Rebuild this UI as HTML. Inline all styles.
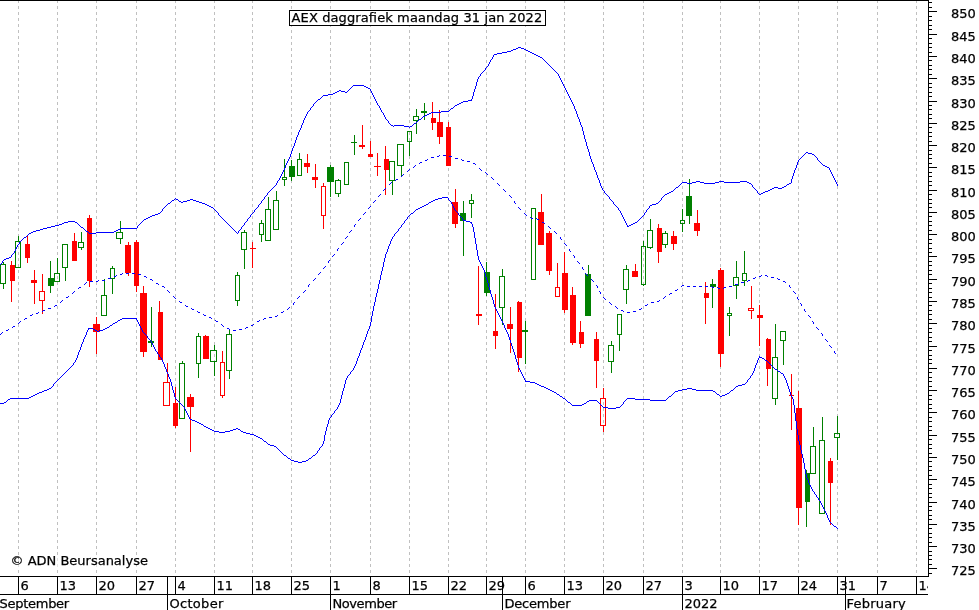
<!DOCTYPE html>
<html lang="nl"><head><meta charset="utf-8"><title>AEX daggrafiek maandag 31 jan 2022</title>
<style>html,body{margin:0;padding:0;background:#fff}body{width:979px;height:610px;overflow:hidden}svg{display:block}text{font-family:"DejaVu Sans","Liberation Sans",sans-serif;font-size:13px;fill:#000;stroke:#000;stroke-width:0.25px}</style></head><body>
<svg width="979" height="610" viewBox="0 0 979 610">
<rect width="979" height="610" fill="#fff"/>
<g shape-rendering="crispEdges" stroke="#c0c0c0" stroke-width="1" stroke-dasharray="3 3">
<line x1="18.5" y1="0" x2="18.5" y2="576"/>
<line x1="57.5" y1="0" x2="57.5" y2="576"/>
<line x1="96.5" y1="0" x2="96.5" y2="576"/>
<line x1="136.5" y1="0" x2="136.5" y2="576"/>
<line x1="175.5" y1="0" x2="175.5" y2="576"/>
<line x1="214.5" y1="0" x2="214.5" y2="576"/>
<line x1="252.5" y1="0" x2="252.5" y2="576"/>
<line x1="291.5" y1="0" x2="291.5" y2="576"/>
<line x1="330.5" y1="0" x2="330.5" y2="576"/>
<line x1="370.5" y1="0" x2="370.5" y2="576"/>
<line x1="409.5" y1="0" x2="409.5" y2="576"/>
<line x1="448.5" y1="0" x2="448.5" y2="576"/>
<line x1="486.5" y1="0" x2="486.5" y2="576"/>
<line x1="525.5" y1="0" x2="525.5" y2="576"/>
<line x1="564.5" y1="0" x2="564.5" y2="576"/>
<line x1="603.5" y1="0" x2="603.5" y2="576"/>
<line x1="643.5" y1="0" x2="643.5" y2="576"/>
<line x1="682.5" y1="0" x2="682.5" y2="576"/>
<line x1="720.5" y1="0" x2="720.5" y2="576"/>
<line x1="759.5" y1="0" x2="759.5" y2="576"/>
<line x1="798.5" y1="0" x2="798.5" y2="576"/>
<line x1="837.5" y1="0" x2="837.5" y2="576"/>
<line x1="877.5" y1="0" x2="877.5" y2="576"/>
<line x1="916.5" y1="0" x2="916.5" y2="576"/>
</g>
<g shape-rendering="crispEdges">
<rect x="3" y="262" width="1" height="2" fill="#008000"/>
<rect x="3" y="284" width="1" height="5" fill="#008000"/>
<rect x="0.5" y="264.5" width="5" height="19" fill="none" stroke="#008000" stroke-width="1"/>
<rect x="11" y="261" width="1" height="41" fill="#ff0000"/>
<rect x="10" y="265" width="5" height="16" fill="#ff0000"/>
<rect x="18" y="236" width="1" height="5" fill="#008000"/>
<rect x="15.5" y="241.5" width="5" height="26" fill="none" stroke="#008000" stroke-width="1"/>
<rect x="27" y="236" width="1" height="27" fill="#ff0000"/>
<rect x="25" y="244" width="5" height="14" fill="#ff0000"/>
<rect x="34" y="270" width="1" height="34" fill="#ff0000"/>
<rect x="31" y="280" width="6" height="3" fill="#ff0000"/>
<rect x="42" y="274" width="1" height="17" fill="#ff0000"/>
<rect x="42" y="301" width="1" height="13" fill="#ff0000"/>
<rect x="39.5" y="291.5" width="5" height="9" fill="none" stroke="#ff0000" stroke-width="1"/>
<rect x="50" y="261" width="1" height="32" fill="#008000"/>
<rect x="48" y="278" width="6" height="8" fill="#008000"/>
<rect x="57" y="258" width="1" height="15" fill="#008000"/>
<rect x="54.5" y="273.5" width="5" height="8" fill="none" stroke="#008000" stroke-width="1"/>
<rect x="65" y="268" width="1" height="13" fill="#008000"/>
<rect x="62.5" y="244.5" width="5" height="23" fill="none" stroke="#008000" stroke-width="1"/>
<rect x="74" y="233" width="1" height="28" fill="#ff0000"/>
<rect x="72" y="241" width="5" height="20" fill="#ff0000"/>
<rect x="81" y="232" width="1" height="10" fill="#008000"/>
<rect x="81" y="248" width="1" height="2" fill="#008000"/>
<rect x="78.5" y="242.5" width="5" height="5" fill="none" stroke="#008000" stroke-width="1"/>
<rect x="89" y="215" width="1" height="72" fill="#ff0000"/>
<rect x="87" y="218" width="5" height="63" fill="#ff0000"/>
<rect x="96" y="317" width="1" height="37" fill="#ff0000"/>
<rect x="93" y="324" width="7" height="8" fill="#ff0000"/>
<rect x="104" y="279" width="1" height="16" fill="#008000"/>
<rect x="101.5" y="295.5" width="5" height="20" fill="none" stroke="#008000" stroke-width="1"/>
<rect x="112" y="266" width="1" height="2" fill="#008000"/>
<rect x="112" y="279" width="1" height="15" fill="#008000"/>
<rect x="110.5" y="268.5" width="4" height="10" fill="none" stroke="#008000" stroke-width="1"/>
<rect x="120" y="221" width="1" height="11" fill="#008000"/>
<rect x="120" y="239" width="1" height="5" fill="#008000"/>
<rect x="116.5" y="232.5" width="6" height="6" fill="none" stroke="#008000" stroke-width="1"/>
<rect x="128" y="242" width="1" height="34" fill="#ff0000"/>
<rect x="125" y="245" width="6" height="28" fill="#ff0000"/>
<rect x="136" y="240" width="1" height="52" fill="#ff0000"/>
<rect x="134" y="242" width="5" height="44" fill="#ff0000"/>
<rect x="143" y="286" width="1" height="71" fill="#ff0000"/>
<rect x="140" y="293" width="7" height="59" fill="#ff0000"/>
<rect x="151" y="307" width="1" height="40" fill="#008000"/>
<rect x="148" y="341" width="6" height="2" fill="#008000"/>
<rect x="159" y="301" width="1" height="59" fill="#ff0000"/>
<rect x="158" y="312" width="5" height="48" fill="#ff0000"/>
<rect x="167" y="363" width="1" height="19" fill="#ff0000"/>
<rect x="163.5" y="382.5" width="6" height="23" fill="none" stroke="#ff0000" stroke-width="1"/>
<rect x="175" y="387" width="1" height="41" fill="#ff0000"/>
<rect x="173" y="403" width="5" height="23" fill="#ff0000"/>
<rect x="182" y="361" width="1" height="2" fill="#008000"/>
<rect x="179.5" y="363.5" width="5" height="55" fill="none" stroke="#008000" stroke-width="1"/>
<rect x="190" y="394" width="1" height="58" fill="#ff0000"/>
<rect x="187" y="397" width="7" height="10" fill="#ff0000"/>
<rect x="198" y="333" width="1" height="3" fill="#008000"/>
<rect x="198" y="364" width="1" height="14" fill="#008000"/>
<rect x="196.5" y="336.5" width="4" height="27" fill="none" stroke="#008000" stroke-width="1"/>
<rect x="205" y="335" width="1" height="24" fill="#ff0000"/>
<rect x="203" y="336" width="6" height="23" fill="#ff0000"/>
<rect x="214" y="345" width="1" height="5" fill="#008000"/>
<rect x="214" y="362" width="1" height="14" fill="#008000"/>
<rect x="210.5" y="350.5" width="6" height="11" fill="none" stroke="#008000" stroke-width="1"/>
<rect x="222" y="351" width="1" height="11" fill="#ff0000"/>
<rect x="222" y="396" width="1" height="2" fill="#ff0000"/>
<rect x="220.5" y="362.5" width="4" height="33" fill="none" stroke="#ff0000" stroke-width="1"/>
<rect x="229" y="329" width="1" height="5" fill="#008000"/>
<rect x="229" y="371" width="1" height="8" fill="#008000"/>
<rect x="226.5" y="334.5" width="5" height="36" fill="none" stroke="#008000" stroke-width="1"/>
<rect x="237" y="272" width="1" height="3" fill="#008000"/>
<rect x="237" y="301" width="1" height="5" fill="#008000"/>
<rect x="235.5" y="275.5" width="4" height="25" fill="none" stroke="#008000" stroke-width="1"/>
<rect x="244" y="230" width="1" height="2" fill="#008000"/>
<rect x="244" y="250" width="1" height="19" fill="#008000"/>
<rect x="241.5" y="232.5" width="5" height="17" fill="none" stroke="#008000" stroke-width="1"/>
<rect x="252" y="242" width="1" height="26" fill="#ff0000"/>
<rect x="250" y="248" width="6" height="1" fill="#ff0000"/>
<rect x="261" y="220" width="1" height="3" fill="#008000"/>
<rect x="261" y="235" width="1" height="7" fill="#008000"/>
<rect x="259.5" y="223.5" width="4" height="11" fill="none" stroke="#008000" stroke-width="1"/>
<rect x="268" y="197" width="1" height="12" fill="#008000"/>
<rect x="265.5" y="209.5" width="5" height="31" fill="none" stroke="#008000" stroke-width="1"/>
<rect x="276" y="191" width="1" height="9" fill="#008000"/>
<rect x="273.5" y="200.5" width="5" height="29" fill="none" stroke="#008000" stroke-width="1"/>
<rect x="284" y="159" width="1" height="18" fill="#008000"/>
<rect x="284" y="180" width="1" height="6" fill="#008000"/>
<rect x="282.5" y="177.5" width="4" height="2" fill="none" stroke="#008000" stroke-width="1"/>
<rect x="291" y="160" width="1" height="21" fill="#008000"/>
<rect x="289" y="166" width="6" height="11" fill="#008000"/>
<rect x="299" y="153" width="1" height="6" fill="#008000"/>
<rect x="297.5" y="159.5" width="4" height="16" fill="none" stroke="#008000" stroke-width="1"/>
<rect x="307" y="154" width="1" height="19" fill="#ff0000"/>
<rect x="304" y="163" width="6" height="4" fill="#ff0000"/>
<rect x="315" y="164" width="1" height="24" fill="#ff0000"/>
<rect x="312" y="177" width="6" height="3" fill="#ff0000"/>
<rect x="323" y="183" width="1" height="3" fill="#ff0000"/>
<rect x="323" y="216" width="1" height="13" fill="#ff0000"/>
<rect x="321.5" y="186.5" width="4" height="29" fill="none" stroke="#ff0000" stroke-width="1"/>
<rect x="330" y="165" width="1" height="32" fill="#008000"/>
<rect x="327" y="167" width="7" height="15" fill="#008000"/>
<rect x="338" y="179" width="1" height="1" fill="#008000"/>
<rect x="338" y="194" width="1" height="3" fill="#008000"/>
<rect x="335.5" y="180.5" width="5" height="13" fill="none" stroke="#008000" stroke-width="1"/>
<rect x="344.5" y="162.5" width="4" height="22" fill="none" stroke="#008000" stroke-width="1"/>
<rect x="354" y="135" width="1" height="20" fill="#008000"/>
<rect x="351" y="142" width="6" height="1" fill="#008000"/>
<rect x="362" y="125" width="1" height="24" fill="#ff0000"/>
<rect x="359" y="145" width="6" height="2" fill="#ff0000"/>
<rect x="370" y="141" width="1" height="16" fill="#ff0000"/>
<rect x="368" y="154" width="5" height="3" fill="#ff0000"/>
<rect x="377" y="153" width="1" height="23" fill="#ff0000"/>
<rect x="374" y="166" width="7" height="1" fill="#ff0000"/>
<rect x="385" y="146" width="1" height="49" fill="#ff0000"/>
<rect x="384" y="159" width="5" height="11" fill="#ff0000"/>
<rect x="392" y="181" width="1" height="14" fill="#008000"/>
<rect x="389.5" y="161.5" width="5" height="19" fill="none" stroke="#008000" stroke-width="1"/>
<rect x="401" y="166" width="1" height="10" fill="#008000"/>
<rect x="397.5" y="144.5" width="6" height="21" fill="none" stroke="#008000" stroke-width="1"/>
<rect x="409" y="142" width="1" height="14" fill="#008000"/>
<rect x="407.5" y="131.5" width="4" height="10" fill="none" stroke="#008000" stroke-width="1"/>
<rect x="416" y="109" width="1" height="7" fill="#008000"/>
<rect x="416" y="121" width="1" height="13" fill="#008000"/>
<rect x="413.5" y="116.5" width="5" height="4" fill="none" stroke="#008000" stroke-width="1"/>
<rect x="424" y="103" width="1" height="17" fill="#008000"/>
<rect x="421" y="111" width="6" height="2" fill="#008000"/>
<rect x="432" y="102" width="1" height="28" fill="#ff0000"/>
<rect x="431" y="118" width="5" height="5" fill="#ff0000"/>
<rect x="439" y="110" width="1" height="34" fill="#ff0000"/>
<rect x="437" y="122" width="6" height="15" fill="#ff0000"/>
<rect x="448" y="122" width="1" height="44" fill="#ff0000"/>
<rect x="446" y="127" width="5" height="39" fill="#ff0000"/>
<rect x="455" y="189" width="1" height="39" fill="#ff0000"/>
<rect x="452" y="202" width="6" height="22" fill="#ff0000"/>
<rect x="463" y="201" width="1" height="55" fill="#008000"/>
<rect x="460" y="213" width="6" height="8" fill="#008000"/>
<rect x="471" y="194" width="1" height="6" fill="#008000"/>
<rect x="471" y="204" width="1" height="14" fill="#008000"/>
<rect x="469.5" y="200.5" width="4" height="3" fill="none" stroke="#008000" stroke-width="1"/>
<rect x="478" y="266" width="1" height="59" fill="#ff0000"/>
<rect x="476" y="314" width="6" height="2" fill="#ff0000"/>
<rect x="486" y="262" width="1" height="34" fill="#008000"/>
<rect x="484" y="272" width="6" height="21" fill="#008000"/>
<rect x="495" y="294" width="1" height="55" fill="#ff0000"/>
<rect x="493" y="331" width="5" height="5" fill="#ff0000"/>
<rect x="502" y="269" width="1" height="7" fill="#008000"/>
<rect x="502" y="308" width="1" height="17" fill="#008000"/>
<rect x="499.5" y="276.5" width="5" height="31" fill="none" stroke="#008000" stroke-width="1"/>
<rect x="510" y="307" width="1" height="46" fill="#ff0000"/>
<rect x="507" y="324" width="6" height="5" fill="#ff0000"/>
<rect x="518" y="301" width="1" height="71" fill="#ff0000"/>
<rect x="517" y="302" width="5" height="56" fill="#ff0000"/>
<rect x="525" y="321" width="1" height="43" fill="#008000"/>
<rect x="522" y="330" width="6" height="2" fill="#008000"/>
<rect x="531.5" y="208.5" width="4" height="71" fill="none" stroke="#008000" stroke-width="1"/>
<rect x="541" y="194" width="1" height="51" fill="#ff0000"/>
<rect x="538" y="212" width="6" height="33" fill="#ff0000"/>
<rect x="549" y="231" width="1" height="44" fill="#ff0000"/>
<rect x="546" y="233" width="6" height="38" fill="#ff0000"/>
<rect x="557" y="263" width="1" height="24" fill="#ff0000"/>
<rect x="555.5" y="287.5" width="4" height="9" fill="none" stroke="#ff0000" stroke-width="1"/>
<rect x="564" y="252" width="1" height="61" fill="#ff0000"/>
<rect x="562" y="273" width="6" height="37" fill="#ff0000"/>
<rect x="572" y="287" width="1" height="58" fill="#ff0000"/>
<rect x="570" y="295" width="6" height="48" fill="#ff0000"/>
<rect x="580" y="321" width="1" height="27" fill="#ff0000"/>
<rect x="579" y="332" width="5" height="12" fill="#ff0000"/>
<rect x="588" y="265" width="1" height="51" fill="#008000"/>
<rect x="585" y="274" width="6" height="42" fill="#008000"/>
<rect x="596" y="332" width="1" height="56" fill="#ff0000"/>
<rect x="594" y="339" width="5" height="22" fill="#ff0000"/>
<rect x="603" y="388" width="1" height="10" fill="#ff0000"/>
<rect x="603" y="426" width="1" height="6" fill="#ff0000"/>
<rect x="600.5" y="398.5" width="5" height="27" fill="none" stroke="#ff0000" stroke-width="1"/>
<rect x="611" y="341" width="1" height="4" fill="#008000"/>
<rect x="611" y="362" width="1" height="11" fill="#008000"/>
<rect x="608.5" y="345.5" width="5" height="16" fill="none" stroke="#008000" stroke-width="1"/>
<rect x="619" y="335" width="1" height="16" fill="#008000"/>
<rect x="617.5" y="314.5" width="4" height="20" fill="none" stroke="#008000" stroke-width="1"/>
<rect x="626" y="265" width="1" height="4" fill="#008000"/>
<rect x="626" y="290" width="1" height="14" fill="#008000"/>
<rect x="623.5" y="269.5" width="5" height="20" fill="none" stroke="#008000" stroke-width="1"/>
<rect x="635" y="264" width="1" height="13" fill="#ff0000"/>
<rect x="632" y="271" width="6" height="6" fill="#ff0000"/>
<rect x="643" y="241" width="1" height="5" fill="#008000"/>
<rect x="643" y="285" width="1" height="1" fill="#008000"/>
<rect x="641.5" y="246.5" width="4" height="38" fill="none" stroke="#008000" stroke-width="1"/>
<rect x="650" y="219" width="1" height="11" fill="#008000"/>
<rect x="650" y="248" width="1" height="1" fill="#008000"/>
<rect x="647.5" y="230.5" width="5" height="17" fill="none" stroke="#008000" stroke-width="1"/>
<rect x="658" y="224" width="1" height="39" fill="#ff0000"/>
<rect x="657" y="228" width="5" height="24" fill="#ff0000"/>
<rect x="665" y="231" width="1" height="2" fill="#008000"/>
<rect x="665" y="245" width="1" height="3" fill="#008000"/>
<rect x="662.5" y="233.5" width="5" height="11" fill="none" stroke="#008000" stroke-width="1"/>
<rect x="673" y="231" width="1" height="19" fill="#ff0000"/>
<rect x="671" y="236" width="6" height="8" fill="#ff0000"/>
<rect x="682" y="209" width="1" height="11" fill="#008000"/>
<rect x="682" y="224" width="1" height="8" fill="#008000"/>
<rect x="680.5" y="220.5" width="4" height="3" fill="none" stroke="#008000" stroke-width="1"/>
<rect x="689" y="179" width="1" height="45" fill="#008000"/>
<rect x="686" y="196" width="6" height="20" fill="#008000"/>
<rect x="697" y="210" width="1" height="26" fill="#ff0000"/>
<rect x="694" y="223" width="6" height="8" fill="#ff0000"/>
<rect x="705" y="282" width="1" height="42" fill="#ff0000"/>
<rect x="704" y="293" width="5" height="5" fill="#ff0000"/>
<rect x="712" y="279" width="1" height="29" fill="#008000"/>
<rect x="710" y="284" width="6" height="3" fill="#008000"/>
<rect x="720" y="268" width="1" height="99" fill="#ff0000"/>
<rect x="718" y="270" width="6" height="84" fill="#ff0000"/>
<rect x="729" y="307" width="1" height="6" fill="#008000"/>
<rect x="729" y="316" width="1" height="20" fill="#008000"/>
<rect x="727.5" y="313.5" width="4" height="2" fill="none" stroke="#008000" stroke-width="1"/>
<rect x="736" y="261" width="1" height="16" fill="#008000"/>
<rect x="736" y="286" width="1" height="13" fill="#008000"/>
<rect x="733.5" y="277.5" width="5" height="8" fill="none" stroke="#008000" stroke-width="1"/>
<rect x="744" y="251" width="1" height="22" fill="#008000"/>
<rect x="744" y="281" width="1" height="5" fill="#008000"/>
<rect x="742.5" y="273.5" width="4" height="7" fill="none" stroke="#008000" stroke-width="1"/>
<rect x="751" y="286" width="1" height="22" fill="#ff0000"/>
<rect x="751" y="311" width="1" height="8" fill="#ff0000"/>
<rect x="748.5" y="308.5" width="5" height="2" fill="none" stroke="#ff0000" stroke-width="1"/>
<rect x="759" y="305" width="1" height="41" fill="#ff0000"/>
<rect x="757" y="315" width="6" height="3" fill="#ff0000"/>
<rect x="767" y="338" width="1" height="48" fill="#ff0000"/>
<rect x="766" y="339" width="5" height="30" fill="#ff0000"/>
<rect x="775" y="324" width="1" height="33" fill="#008000"/>
<rect x="775" y="399" width="1" height="6" fill="#008000"/>
<rect x="772.5" y="357.5" width="5" height="41" fill="none" stroke="#008000" stroke-width="1"/>
<rect x="783" y="341" width="1" height="24" fill="#008000"/>
<rect x="780.5" y="331.5" width="5" height="9" fill="none" stroke="#008000" stroke-width="1"/>
<rect x="791" y="374" width="1" height="56" fill="#ff0000"/>
<rect x="789" y="395" width="5" height="1" fill="#ff0000"/>
<rect x="798" y="391" width="1" height="134" fill="#ff0000"/>
<rect x="796" y="408" width="6" height="100" fill="#ff0000"/>
<rect x="806" y="470" width="1" height="57" fill="#008000"/>
<rect x="805" y="473" width="5" height="29" fill="#008000"/>
<rect x="813" y="427" width="1" height="19" fill="#008000"/>
<rect x="810.5" y="446.5" width="5" height="27" fill="none" stroke="#008000" stroke-width="1"/>
<rect x="822" y="417" width="1" height="23" fill="#008000"/>
<rect x="819.5" y="440.5" width="5" height="73" fill="none" stroke="#008000" stroke-width="1"/>
<rect x="830" y="458" width="1" height="67" fill="#ff0000"/>
<rect x="828" y="461" width="5" height="22" fill="#ff0000"/>
<rect x="837" y="416" width="1" height="17" fill="#008000"/>
<rect x="837" y="438" width="1" height="22" fill="#008000"/>
<rect x="834.5" y="433.5" width="5" height="4" fill="none" stroke="#008000" stroke-width="1"/>
<path fill="#0000ff" d="M518 47h3v1h-3zM516 48h2v1h-2zM521 48h3v1h-3zM513 49h3v1h-3zM524 49h2v1h-2zM511 50h2v1h-2zM526 50h2v1h-2zM507 51h4v1h-4zM528 51h2v1h-2zM502 52h5v1h-5zM530 52h2v1h-2zM497 53h5v1h-5zM532 53h2v1h-2zM494 54h3v1h-3zM534 54h2v1h-2zM493 55h1v2h-1zM536 55h2v1h-2zM538 56h2v1h-2zM492 57h1v2h-1zM540 57h2v1h-2zM542 58h1v1h-1zM491 59h1v1h-1zM543 59h1v1h-1zM490 60h1v2h-1zM544 60h1v1h-1zM545 61h1v1h-1zM489 62h1v2h-1zM546 62h1v1h-1zM547 63h1v1h-1zM488 64h1v2h-1zM548 64h1v1h-1zM549 65h1v1h-1zM487 66h1v1h-1zM550 66h1v1h-1zM486 67h1v1h-1zM551 67h1v1h-1zM485 68h1v2h-1zM552 68h1v1h-1zM553 69h1v1h-1zM484 70h1v1h-1zM554 70h1v1h-1zM483 71h1v1h-1zM555 71h1v1h-1zM482 72h1v1h-1zM556 72h1v1h-1zM481 73h1v1h-1zM557 73h1v1h-1zM480 74h1v2h-1zM558 74h1v2h-1zM479 76h1v1h-1zM559 76h1v2h-1zM478 77h1v2h-1zM560 78h1v2h-1zM477 79h1v3h-1zM561 80h1v2h-1zM476 82h1v4h-1zM562 82h1v2h-1zM563 84h1v2h-1zM353 85h11v1h-11zM352 86h1v1h-1zM364 86h2v1h-2zM475 86h1v3h-1zM564 86h1v2h-1zM351 87h1v1h-1zM366 87h2v1h-2zM350 88h1v1h-1zM368 88h2v1h-2zM565 88h1v2h-1zM349 89h1v1h-1zM370 89h1v2h-1zM474 89h1v3h-1zM339 90h2v1h-2zM348 90h1v1h-1zM566 90h1v2h-1zM337 91h2v1h-2zM341 91h4v1h-4zM347 91h1v1h-1zM371 91h1v2h-1zM335 92h2v1h-2zM345 92h2v1h-2zM473 92h1v4h-1zM567 92h1v2h-1zM333 93h2v1h-2zM372 93h1v2h-1zM328 94h5v1h-5zM568 94h1v2h-1zM323 95h5v1h-5zM373 95h1v2h-1zM322 96h1v1h-1zM472 96h1v3h-1zM569 96h1v2h-1zM321 97h1v1h-1zM374 97h1v2h-1zM320 98h1v1h-1zM570 98h1v2h-1zM318 99h2v1h-2zM375 99h1v2h-1zM471 99h1v2h-1zM317 100h1v1h-1zM468 100h3v1h-3zM571 100h1v2h-1zM316 101h1v1h-1zM376 101h1v2h-1zM463 101h5v1h-5zM315 102h1v1h-1zM461 102h2v1h-2zM572 102h1v2h-1zM314 103h1v1h-1zM377 103h1v2h-1zM459 103h2v1h-2zM313 104h1v2h-1zM457 104h2v1h-2zM573 104h1v2h-1zM378 105h1v1h-1zM455 105h2v1h-2zM312 106h1v1h-1zM379 106h1v2h-1zM454 106h1v1h-1zM574 106h1v3h-1zM311 107h1v1h-1zM453 107h1v1h-1zM310 108h1v2h-1zM380 108h1v2h-1zM451 108h2v1h-2zM450 109h1v1h-1zM575 109h1v2h-1zM309 110h1v1h-1zM381 110h1v2h-1zM449 110h1v1h-1zM308 111h1v1h-1zM441 111h8v1h-8zM576 111h1v3h-1zM307 112h1v2h-1zM382 112h1v1h-1zM431 112h10v1h-10zM383 113h1v2h-1zM429 113h2v1h-2zM306 114h1v2h-1zM427 114h2v1h-2zM577 114h1v3h-1zM384 115h1v2h-1zM425 115h2v1h-2zM305 116h1v2h-1zM423 116h2v1h-2zM385 117h1v2h-1zM422 117h1v1h-1zM578 117h1v2h-1zM304 118h1v2h-1zM421 118h1v1h-1zM386 119h1v1h-1zM419 119h2v1h-2zM579 119h1v3h-1zM303 120h1v3h-1zM387 120h1v1h-1zM418 120h1v1h-1zM388 121h1v2h-1zM417 121h1v1h-1zM416 122h1v1h-1zM580 122h1v3h-1zM302 123h1v2h-1zM389 123h1v1h-1zM414 123h2v1h-2zM390 124h1v1h-1zM413 124h1v1h-1zM301 125h1v3h-1zM391 125h2v1h-2zM394 125h10v1h-10zM412 125h1v1h-1zM581 125h1v2h-1zM393 126h1v1h-1zM404 126h5v1h-5zM410 126h2v1h-2zM409 127h1v1h-1zM582 127h1v4h-1zM300 128h1v2h-1zM299 130h1v2h-1zM583 131h1v4h-1zM298 132h1v3h-1zM297 135h1v2h-1zM584 135h1v4h-1zM296 137h1v3h-1zM585 139h1v3h-1zM295 140h1v3h-1zM586 142h1v4h-1zM294 143h1v3h-1zM293 146h1v2h-1zM587 146h1v3h-1zM292 148h1v3h-1zM588 149h1v3h-1zM291 151h1v3h-1zM589 152h1v4h-1zM806 152h2v1h-2zM805 153h1v1h-1zM808 153h4v1h-4zM290 154h1v3h-1zM804 154h1v1h-1zM812 154h2v1h-2zM803 155h1v1h-1zM814 155h1v1h-1zM590 156h1v3h-1zM802 156h1v1h-1zM815 156h1v1h-1zM289 157h1v2h-1zM801 157h1v1h-1zM816 157h1v1h-1zM800 158h1v1h-1zM817 158h1v2h-1zM288 159h1v2h-1zM591 159h1v3h-1zM799 159h1v1h-1zM798 160h1v2h-1zM818 160h1v1h-1zM287 161h1v2h-1zM819 161h1v1h-1zM592 162h1v2h-1zM797 162h1v3h-1zM820 162h1v1h-1zM286 163h1v2h-1zM821 163h1v1h-1zM593 164h1v3h-1zM822 164h1v1h-1zM285 165h1v3h-1zM796 165h1v3h-1zM823 165h2v1h-2zM825 166h2v1h-2zM594 167h1v3h-1zM827 167h2v1h-2zM284 168h1v2h-1zM795 168h1v2h-1zM829 168h1v2h-1zM283 170h1v2h-1zM595 170h1v2h-1zM794 170h1v3h-1zM830 170h1v2h-1zM282 172h1v2h-1zM596 172h1v3h-1zM831 172h1v2h-1zM793 173h1v3h-1zM281 174h1v2h-1zM832 174h1v2h-1zM597 175h1v3h-1zM280 176h1v2h-1zM792 176h1v3h-1zM833 176h1v2h-1zM279 178h1v2h-1zM598 178h1v2h-1zM834 178h1v2h-1zM791 179h1v4h-1zM278 180h1v1h-1zM599 180h1v3h-1zM835 180h1v2h-1zM277 181h1v2h-1zM696 181h4v1h-4zM719 181h5v1h-5zM740 181h7v1h-7zM682 182h5v1h-5zM692 182h4v1h-4zM700 182h4v1h-4zM715 182h4v1h-4zM724 182h16v1h-16zM747 182h2v1h-2zM836 182h1v2h-1zM276 183h1v2h-1zM600 183h1v3h-1zM681 183h1v1h-1zM687 183h5v1h-5zM704 183h11v1h-11zM749 183h2v1h-2zM789 183h2v1h-2zM680 184h1v1h-1zM751 184h1v1h-1zM787 184h2v1h-2zM837 184h1v2h-1zM275 185h1v1h-1zM679 185h1v1h-1zM752 185h1v2h-1zM786 185h1v1h-1zM274 186h1v1h-1zM601 186h1v2h-1zM678 186h1v1h-1zM784 186h2v1h-2zM273 187h1v1h-1zM676 187h2v1h-2zM753 187h1v1h-1zM774 187h4v1h-4zM782 187h2v1h-2zM272 188h1v1h-1zM602 188h1v2h-1zM675 188h1v1h-1zM754 188h1v1h-1zM772 188h2v1h-2zM778 188h4v1h-4zM271 189h1v1h-1zM674 189h1v1h-1zM755 189h1v1h-1zM770 189h2v1h-2zM270 190h1v1h-1zM603 190h1v1h-1zM673 190h1v1h-1zM756 190h1v1h-1zM768 190h2v1h-2zM269 191h1v1h-1zM604 191h1v2h-1zM671 191h2v1h-2zM757 191h1v2h-1zM765 191h3v1h-3zM268 192h1v1h-1zM669 192h2v1h-2zM763 192h2v1h-2zM267 193h1v2h-1zM605 193h1v1h-1zM667 193h2v1h-2zM758 193h1v1h-1zM761 193h2v1h-2zM606 194h1v1h-1zM665 194h2v1h-2zM759 194h2v1h-2zM266 195h1v1h-1zM607 195h1v1h-1zM664 195h1v1h-1zM265 196h1v1h-1zM608 196h1v1h-1zM663 196h1v1h-1zM264 197h1v2h-1zM609 197h1v2h-1zM662 197h1v1h-1zM175 198h1v1h-1zM661 198h1v2h-1zM174 199h1v1h-1zM176 199h2v1h-2zM190 199h3v1h-3zM263 199h1v1h-1zM610 199h1v1h-1zM172 200h2v1h-2zM178 200h1v1h-1zM187 200h3v1h-3zM193 200h3v1h-3zM262 200h1v1h-1zM611 200h1v1h-1zM660 200h1v1h-1zM171 201h1v1h-1zM179 201h2v1h-2zM183 201h4v1h-4zM196 201h3v1h-3zM261 201h1v2h-1zM612 201h1v1h-1zM659 201h1v1h-1zM170 202h1v1h-1zM181 202h2v1h-2zM199 202h3v1h-3zM613 202h1v2h-1zM658 202h1v1h-1zM168 203h2v1h-2zM202 203h3v1h-3zM260 203h1v1h-1zM656 203h2v1h-2zM167 204h1v1h-1zM205 204h2v1h-2zM259 204h1v1h-1zM614 204h1v1h-1zM652 204h4v1h-4zM166 205h1v1h-1zM207 205h2v1h-2zM258 205h1v2h-1zM615 205h1v1h-1zM650 205h2v1h-2zM165 206h1v1h-1zM209 206h2v1h-2zM616 206h1v1h-1zM649 206h1v2h-1zM164 207h1v1h-1zM211 207h2v1h-2zM257 207h1v1h-1zM617 207h1v1h-1zM163 208h1v1h-1zM213 208h1v1h-1zM256 208h1v1h-1zM618 208h1v2h-1zM648 208h1v1h-1zM162 209h1v2h-1zM214 209h1v1h-1zM255 209h1v1h-1zM647 209h1v1h-1zM215 210h1v1h-1zM254 210h1v2h-1zM619 210h1v1h-1zM646 210h1v2h-1zM161 211h1v1h-1zM216 211h1v1h-1zM620 211h1v2h-1zM160 212h1v1h-1zM217 212h1v1h-1zM253 212h1v1h-1zM645 212h1v1h-1zM158 213h2v1h-2zM218 213h1v2h-1zM252 213h1v1h-1zM621 213h1v2h-1zM644 213h1v2h-1zM155 214h3v1h-3zM251 214h1v1h-1zM152 215h3v1h-3zM219 215h1v1h-1zM250 215h1v2h-1zM622 215h1v2h-1zM643 215h1v1h-1zM150 216h2v1h-2zM220 216h1v1h-1zM642 216h1v1h-1zM148 217h2v1h-2zM221 217h1v1h-1zM249 217h1v1h-1zM623 217h1v2h-1zM641 217h1v1h-1zM146 218h2v1h-2zM222 218h1v1h-1zM248 218h1v1h-1zM640 218h1v1h-1zM144 219h2v1h-2zM223 219h1v1h-1zM247 219h1v2h-1zM624 219h1v2h-1zM639 219h1v1h-1zM143 220h1v1h-1zM224 220h1v1h-1zM638 220h1v1h-1zM68 221h7v1h-7zM142 221h1v1h-1zM225 221h1v1h-1zM246 221h1v1h-1zM625 221h1v2h-1zM637 221h1v1h-1zM64 222h4v1h-4zM75 222h2v1h-2zM141 222h1v1h-1zM226 222h1v1h-1zM245 222h1v1h-1zM635 222h2v1h-2zM62 223h2v1h-2zM77 223h1v1h-1zM140 223h1v1h-1zM227 223h1v1h-1zM244 223h1v2h-1zM626 223h1v2h-1zM633 223h2v1h-2zM59 224h3v1h-3zM78 224h1v1h-1zM139 224h1v1h-1zM228 224h1v1h-1zM631 224h2v1h-2zM55 225h4v1h-4zM79 225h1v1h-1zM138 225h1v1h-1zM229 225h1v1h-1zM243 225h1v1h-1zM627 225h1v2h-1zM629 225h2v1h-2zM51 226h4v1h-4zM80 226h1v1h-1zM137 226h1v2h-1zM230 226h1v1h-1zM242 226h1v1h-1zM628 226h1v1h-1zM47 227h4v1h-4zM81 227h2v1h-2zM231 227h1v1h-1zM241 227h1v2h-1zM43 228h4v1h-4zM83 228h1v1h-1zM120 228h17v1h-17zM232 228h1v1h-1zM40 229h3v1h-3zM84 229h1v1h-1zM118 229h2v1h-2zM233 229h1v1h-1zM240 229h1v1h-1zM36 230h4v1h-4zM85 230h1v1h-1zM116 230h2v1h-2zM234 230h1v1h-1zM239 230h1v1h-1zM33 231h3v1h-3zM86 231h2v1h-2zM114 231h2v1h-2zM235 231h1v1h-1zM238 231h1v2h-1zM31 232h2v1h-2zM88 232h1v1h-1zM96 232h18v1h-18zM236 232h1v1h-1zM29 233h2v1h-2zM89 233h7v1h-7zM237 233h1v1h-1zM28 234h1v1h-1zM27 235h1v1h-1zM26 236h1v1h-1zM24 237h2v1h-2zM23 238h1v1h-1zM22 239h1v1h-1zM21 240h1v1h-1zM20 241h1v1h-1zM19 242h1v2h-1zM18 244h1v1h-1zM17 245h1v2h-1zM16 247h1v2h-1zM15 249h1v2h-1zM14 251h1v2h-1zM13 253h1v1h-1zM12 254h1v1h-1zM11 255h1v2h-1zM9 257h2v1h-2zM6 258h3v1h-3zM4 259h2v1h-2zM3 260h1v1h-1zM2 261h1v2h-1zM1 263h1v1h-1zM0 264h1v1h-1z"/>
<path fill="#0000ff" d="M442 197h6v1h-6zM438 198h4v1h-4zM448 198h1v2h-1zM435 199h3v1h-3zM433 200h2v1h-2zM449 200h1v1h-1zM431 201h2v1h-2zM450 201h1v1h-1zM429 202h2v1h-2zM451 202h1v2h-1zM428 203h1v1h-1zM426 204h2v1h-2zM452 204h1v2h-1zM424 205h2v1h-2zM422 206h2v1h-2zM453 206h1v2h-1zM420 207h2v1h-2zM418 208h2v1h-2zM454 208h1v2h-1zM416 209h2v1h-2zM415 210h1v1h-1zM455 210h1v1h-1zM414 211h1v1h-1zM456 211h1v1h-1zM413 212h1v1h-1zM457 212h1v1h-1zM411 213h2v1h-2zM458 213h1v2h-1zM410 214h1v1h-1zM409 215h1v1h-1zM459 215h1v1h-1zM408 216h1v1h-1zM460 216h1v1h-1zM407 217h1v2h-1zM461 217h1v1h-1zM462 218h1v2h-1zM406 219h1v1h-1zM405 220h1v1h-1zM463 220h3v1h-3zM404 221h1v2h-1zM466 221h4v1h-4zM470 222h2v1h-2zM403 223h1v1h-1zM471 223h1v1h-1zM402 224h1v1h-1zM472 224h1v3h-1zM401 225h1v2h-1zM400 227h1v1h-1zM473 227h1v5h-1zM399 228h1v1h-1zM398 229h1v2h-1zM397 231h1v1h-1zM396 232h1v1h-1zM474 232h1v6h-1zM395 233h1v1h-1zM394 234h1v2h-1zM393 236h1v1h-1zM392 237h1v2h-1zM475 238h1v6h-1zM391 239h1v2h-1zM390 241h1v3h-1zM389 244h1v2h-1zM476 244h1v6h-1zM388 246h1v3h-1zM387 249h1v3h-1zM477 250h1v6h-1zM386 252h1v2h-1zM385 254h1v4h-1zM478 256h1v4h-1zM384 258h1v4h-1zM479 260h1v2h-1zM383 262h1v5h-1zM480 262h1v2h-1zM481 264h1v2h-1zM482 266h1v2h-1zM382 267h1v4h-1zM483 268h1v2h-1zM484 270h1v3h-1zM381 271h1v4h-1zM485 273h1v4h-1zM380 275h1v5h-1zM486 277h1v3h-1zM379 280h1v4h-1zM487 280h1v3h-1zM488 283h1v4h-1zM378 284h1v5h-1zM489 287h1v3h-1zM377 289h1v4h-1zM490 290h1v4h-1zM376 293h1v4h-1zM491 294h1v3h-1zM375 297h1v5h-1zM492 297h1v3h-1zM493 300h1v4h-1zM374 302h1v4h-1zM494 304h1v3h-1zM373 306h1v5h-1zM495 307h1v2h-1zM496 309h1v2h-1zM372 311h1v5h-1zM497 311h1v2h-1zM498 313h1v2h-1zM499 315h1v2h-1zM371 316h1v6h-1zM500 317h1v2h-1zM122 318h15v1h-15zM120 319h2v1h-2zM136 319h1v1h-1zM501 319h1v2h-1zM118 320h2v1h-2zM137 320h1v2h-1zM117 321h1v1h-1zM502 321h1v2h-1zM115 322h2v1h-2zM138 322h1v2h-1zM370 322h1v4h-1zM113 323h2v1h-2zM503 323h1v2h-1zM112 324h1v1h-1zM139 324h1v2h-1zM110 325h2v1h-2zM504 325h1v3h-1zM109 326h1v1h-1zM140 326h1v2h-1zM369 326h1v3h-1zM107 327h2v1h-2zM88 328h5v1h-5zM105 328h2v1h-2zM141 328h1v2h-1zM505 328h1v2h-1zM88 329h1v1h-1zM93 329h2v1h-2zM103 329h2v1h-2zM368 329h1v2h-1zM87 330h1v2h-1zM95 330h2v1h-2zM99 330h4v1h-4zM142 330h1v2h-1zM506 330h1v2h-1zM97 331h2v1h-2zM367 331h1v3h-1zM86 332h1v3h-1zM143 332h1v1h-1zM507 332h1v2h-1zM144 333h1v1h-1zM145 334h1v1h-1zM366 334h1v3h-1zM508 334h1v3h-1zM85 335h1v2h-1zM146 335h1v1h-1zM147 336h1v2h-1zM84 337h1v2h-1zM365 337h1v3h-1zM509 337h1v3h-1zM148 338h1v1h-1zM83 339h1v3h-1zM149 339h1v1h-1zM150 340h1v1h-1zM364 340h1v2h-1zM510 340h1v3h-1zM151 341h1v2h-1zM82 342h1v2h-1zM363 342h1v3h-1zM152 343h1v2h-1zM511 343h1v3h-1zM81 344h1v3h-1zM153 345h1v2h-1zM362 345h1v3h-1zM512 346h1v3h-1zM80 347h1v3h-1zM154 347h1v2h-1zM361 348h1v2h-1zM155 349h1v2h-1zM513 349h1v3h-1zM79 350h1v2h-1zM360 350h1v3h-1zM156 351h1v1h-1zM78 352h1v3h-1zM157 352h1v2h-1zM514 352h1v3h-1zM359 353h1v3h-1zM158 354h1v1h-1zM77 355h1v3h-1zM159 355h1v2h-1zM515 355h1v4h-1zM358 356h1v2h-1zM759 356h1v2h-1zM160 357h1v1h-1zM760 357h2v1h-2zM76 358h1v2h-1zM161 358h1v2h-1zM357 358h1v3h-1zM758 358h1v2h-1zM762 358h2v1h-2zM516 359h1v3h-1zM764 359h1v1h-1zM75 360h1v2h-1zM162 360h1v2h-1zM757 360h1v3h-1zM765 360h2v1h-2zM356 361h1v3h-1zM767 361h1v1h-1zM74 362h1v1h-1zM163 362h1v2h-1zM517 362h1v3h-1zM768 362h1v1h-1zM73 363h1v2h-1zM756 363h1v2h-1zM769 363h1v1h-1zM164 364h1v3h-1zM355 364h1v2h-1zM770 364h1v1h-1zM72 365h1v1h-1zM518 365h1v3h-1zM755 365h1v3h-1zM771 365h1v1h-1zM71 366h1v1h-1zM354 366h1v2h-1zM772 366h1v1h-1zM70 367h1v1h-1zM165 367h1v2h-1zM773 367h1v1h-1zM69 368h1v1h-1zM353 368h1v2h-1zM519 368h1v2h-1zM754 368h1v3h-1zM774 368h1v1h-1zM68 369h1v1h-1zM166 369h1v3h-1zM775 369h2v1h-2zM67 370h1v1h-1zM352 370h1v1h-1zM520 370h1v2h-1zM777 370h1v1h-1zM66 371h1v1h-1zM351 371h1v1h-1zM753 371h1v2h-1zM778 371h2v1h-2zM65 372h1v1h-1zM167 372h1v2h-1zM350 372h1v2h-1zM521 372h1v2h-1zM780 372h1v1h-1zM64 373h1v1h-1zM752 373h1v2h-1zM781 373h2v1h-2zM63 374h1v1h-1zM168 374h1v3h-1zM349 374h1v1h-1zM522 374h1v2h-1zM783 374h1v2h-1zM62 375h1v1h-1zM348 375h1v1h-1zM751 375h1v1h-1zM61 376h1v1h-1zM347 376h1v2h-1zM523 376h1v2h-1zM750 376h1v2h-1zM784 376h1v2h-1zM60 377h1v1h-1zM169 377h1v2h-1zM59 378h1v1h-1zM346 378h1v2h-1zM524 378h1v2h-1zM749 378h1v1h-1zM785 378h1v2h-1zM58 379h1v1h-1zM170 379h1v3h-1zM748 379h1v1h-1zM57 380h1v1h-1zM345 380h1v4h-1zM525 380h1v2h-1zM747 380h1v2h-1zM786 380h1v3h-1zM56 381h1v1h-1zM526 381h4v1h-4zM55 382h1v1h-1zM171 382h1v4h-1zM530 382h5v1h-5zM746 382h1v1h-1zM54 383h1v1h-1zM535 383h2v1h-2zM745 383h1v1h-1zM787 383h1v3h-1zM53 384h1v2h-1zM344 384h1v4h-1zM537 384h2v1h-2zM742 384h3v1h-3zM539 385h2v1h-2zM738 385h4v1h-4zM52 386h1v1h-1zM172 386h1v4h-1zM541 386h3v1h-3zM736 386h2v1h-2zM788 386h1v3h-1zM51 387h1v1h-1zM544 387h2v1h-2zM735 387h1v1h-1zM49 388h2v1h-2zM343 388h1v3h-1zM546 388h2v1h-2zM687 388h5v1h-5zM734 388h1v1h-1zM47 389h2v1h-2zM548 389h2v1h-2zM682 389h5v1h-5zM692 389h4v1h-4zM733 389h1v1h-1zM789 389h1v3h-1zM44 390h3v1h-3zM173 390h1v3h-1zM550 390h2v1h-2zM678 390h4v1h-4zM696 390h17v1h-17zM731 390h2v1h-2zM42 391h2v1h-2zM342 391h1v4h-1zM552 391h2v1h-2zM675 391h3v1h-3zM713 391h2v1h-2zM730 391h1v1h-1zM39 392h3v1h-3zM554 392h2v1h-2zM674 392h1v1h-1zM715 392h1v1h-1zM729 392h1v1h-1zM790 392h1v3h-1zM37 393h2v1h-2zM174 393h1v4h-1zM556 393h1v1h-1zM673 393h1v1h-1zM716 393h1v1h-1zM727 393h2v1h-2zM35 394h2v1h-2zM557 394h2v1h-2zM672 394h1v1h-1zM717 394h2v1h-2zM725 394h2v1h-2zM33 395h2v1h-2zM341 395h1v4h-1zM559 395h1v1h-1zM671 395h1v1h-1zM719 395h1v1h-1zM722 395h3v1h-3zM791 395h1v2h-1zM31 396h2v1h-2zM560 396h2v1h-2zM669 396h2v1h-2zM720 396h2v1h-2zM29 397h2v1h-2zM175 397h1v2h-1zM562 397h1v1h-1zM668 397h1v1h-1zM792 397h1v2h-1zM10 398h19v1h-19zM563 398h2v1h-2zM627 398h8v1h-8zM667 398h1v1h-1zM8 399h2v1h-2zM176 399h1v1h-1zM340 399h1v4h-1zM565 399h1v1h-1zM626 399h1v1h-1zM635 399h15v1h-15zM666 399h1v1h-1zM793 399h1v6h-1zM7 400h1v1h-1zM177 400h1v1h-1zM566 400h1v1h-1zM589 400h8v1h-8zM625 400h1v1h-1zM650 400h16v1h-16zM6 401h1v1h-1zM178 401h1v1h-1zM567 401h1v1h-1zM587 401h2v1h-2zM597 401h1v1h-1zM624 401h1v1h-1zM4 402h2v1h-2zM179 402h1v1h-1zM568 402h2v1h-2zM586 402h1v1h-1zM598 402h1v1h-1zM623 402h1v2h-1zM0 403h4v1h-4zM180 403h1v1h-1zM339 403h1v2h-1zM570 403h1v1h-1zM584 403h2v1h-2zM599 403h1v1h-1zM181 404h1v1h-1zM571 404h1v1h-1zM582 404h2v1h-2zM600 404h1v1h-1zM622 404h1v1h-1zM182 405h1v1h-1zM338 405h1v2h-1zM572 405h10v1h-10zM601 405h1v1h-1zM621 405h1v1h-1zM794 405h1v8h-1zM183 406h1v1h-1zM602 406h1v1h-1zM620 406h1v1h-1zM184 407h1v2h-1zM337 407h1v2h-1zM603 407h5v1h-5zM616 407h4v1h-4zM608 408h8v1h-8zM185 409h1v2h-1zM336 409h1v1h-1zM335 410h1v1h-1zM186 411h1v2h-1zM334 411h1v2h-1zM187 413h1v2h-1zM333 413h1v1h-1zM795 413h1v8h-1zM332 414h1v1h-1zM188 415h1v2h-1zM331 415h1v2h-1zM189 417h1v2h-1zM330 417h1v1h-1zM329 418h1v2h-1zM190 419h2v1h-2zM192 420h3v1h-3zM328 420h1v4h-1zM195 421h2v1h-2zM796 421h1v8h-1zM197 422h2v1h-2zM199 423h2v1h-2zM201 424h2v1h-2zM327 424h1v3h-1zM203 425h1v1h-1zM204 426h2v1h-2zM206 427h2v1h-2zM326 427h1v4h-1zM208 428h2v1h-2zM236 428h2v1h-2zM210 429h2v1h-2zM233 429h3v1h-3zM238 429h2v1h-2zM797 429h1v6h-1zM212 430h2v1h-2zM230 430h3v1h-3zM240 430h1v1h-1zM214 431h5v1h-5zM225 431h5v1h-5zM241 431h2v1h-2zM325 431h1v4h-1zM219 432h6v1h-6zM243 432h3v1h-3zM246 433h4v1h-4zM250 434h4v1h-4zM254 435h2v1h-2zM324 435h1v6h-1zM798 435h1v6h-1zM256 436h2v1h-2zM258 437h2v1h-2zM260 438h2v1h-2zM262 439h1v1h-1zM263 440h1v1h-1zM264 441h2v1h-2zM323 441h1v3h-1zM799 441h1v4h-1zM266 442h1v1h-1zM267 443h1v1h-1zM268 444h2v1h-2zM322 444h1v2h-1zM270 445h4v1h-4zM800 445h1v5h-1zM274 446h2v1h-2zM321 446h1v1h-1zM276 447h1v1h-1zM320 447h1v1h-1zM277 448h1v1h-1zM319 448h1v2h-1zM278 449h1v1h-1zM279 450h1v1h-1zM318 450h1v1h-1zM801 450h1v4h-1zM280 451h1v1h-1zM317 451h1v2h-1zM281 452h1v1h-1zM282 453h1v1h-1zM316 453h1v1h-1zM283 454h1v1h-1zM315 454h1v1h-1zM802 454h1v4h-1zM284 455h2v1h-2zM313 455h2v1h-2zM286 456h1v1h-1zM312 456h1v1h-1zM287 457h1v1h-1zM311 457h1v1h-1zM288 458h2v1h-2zM309 458h2v1h-2zM803 458h1v5h-1zM290 459h1v1h-1zM308 459h1v1h-1zM291 460h3v1h-3zM306 460h2v1h-2zM294 461h4v1h-4zM302 461h4v1h-4zM298 462h4v1h-4zM804 463h1v6h-1zM805 469h1v5h-1zM806 474h1v4h-1zM807 478h1v2h-1zM808 480h1v3h-1zM809 483h1v2h-1zM810 485h1v2h-1zM811 487h1v2h-1zM812 489h1v2h-1zM813 491h1v1h-1zM814 492h1v2h-1zM815 494h1v1h-1zM816 495h1v2h-1zM817 497h1v1h-1zM818 498h1v2h-1zM819 500h1v1h-1zM820 501h1v2h-1zM821 503h1v2h-1zM822 505h1v2h-1zM823 507h1v2h-1zM824 509h1v2h-1zM825 511h1v2h-1zM826 513h1v2h-1zM827 515h1v3h-1zM828 518h1v2h-1zM829 520h1v2h-1zM830 522h1v1h-1zM831 523h1v1h-1zM832 524h1v1h-1zM833 525h1v1h-1zM834 526h2v1h-2zM836 527h1v1h-1zM837 528h1v1h-1z"/>
<path fill="#0000ff" d="M439 155h1v1h-1zM443 155h3v1h-3zM437 156h2v1h-2zM449 156h3v1h-3zM431 157h3v1h-3zM455 158h3v1h-3zM427 159h1v1h-1zM461 159h1v1h-1zM425 160h2v1h-2zM462 160h2v1h-2zM467 161h3v1h-3zM420 162h2v1h-2zM419 163h1v1h-1zM473 163h2v1h-2zM475 164h1v1h-1zM415 165h1v1h-1zM414 166h1v1h-1zM413 167h1v1h-1zM479 168h1v1h-1zM409 169h1v1h-1zM480 169h1v1h-1zM408 170h1v1h-1zM481 170h1v1h-1zM407 171h1v1h-1zM485 172h1v1h-1zM486 173h1v1h-1zM403 174h1v1h-1zM487 174h1v1h-1zM402 175h1v1h-1zM401 176h1v1h-1zM491 177h1v1h-1zM492 178h1v1h-1zM396 179h2v1h-2zM493 179h1v1h-1zM395 180h1v1h-1zM391 182h1v1h-1zM390 183h1v1h-1zM497 183h1v1h-1zM389 184h1v1h-1zM498 184h1v1h-1zM499 185h1v1h-1zM385 188h1v1h-1zM384 189h1v1h-1zM503 189h1v1h-1zM383 190h1v1h-1zM504 190h1v1h-1zM505 191h1v1h-1zM380 194h1v1h-1zM379 195h1v1h-1zM509 195h1v1h-1zM378 196h1v1h-1zM510 196h1v1h-1zM511 197h1v1h-1zM375 200h1v1h-1zM374 201h1v1h-1zM514 201h1v2h-1zM373 202h1v1h-1zM515 203h1v1h-1zM370 206h1v1h-1zM369 207h1v1h-1zM518 207h1v1h-1zM368 208h1v1h-1zM519 208h1v1h-1zM520 209h1v1h-1zM365 212h1v1h-1zM364 213h1v1h-1zM524 213h1v1h-1zM363 214h1v1h-1zM525 214h1v1h-1zM526 215h1v1h-1zM530 217h1v1h-1zM360 218h1v1h-1zM531 218h2v1h-2zM536 218h1v1h-1zM359 219h1v1h-1zM537 219h2v1h-2zM358 220h1v1h-1zM542 222h2v1h-2zM544 223h1v1h-1zM355 224h1v1h-1zM354 225h1v2h-1zM548 226h1v1h-1zM549 227h1v1h-1zM550 228h1v1h-1zM351 230h1v1h-1zM350 231h1v1h-1zM554 231h1v1h-1zM349 232h1v1h-1zM555 232h1v1h-1zM556 233h1v1h-1zM347 236h1v1h-1zM346 237h1v1h-1zM560 237h1v2h-1zM345 238h1v1h-1zM561 239h1v1h-1zM343 242h1v1h-1zM342 243h1v1h-1zM564 243h1v1h-1zM341 244h1v1h-1zM565 244h1v1h-1zM566 245h1v1h-1zM338 248h1v1h-1zM337 249h1v2h-1zM569 249h1v2h-1zM570 251h1v1h-1zM334 254h1v1h-1zM333 255h1v1h-1zM573 255h1v1h-1zM332 256h1v1h-1zM574 256h1v2h-1zM329 260h1v1h-1zM328 261h1v2h-1zM577 261h1v1h-1zM578 262h1v1h-1zM579 263h1v1h-1zM325 266h1v1h-1zM324 267h1v1h-1zM582 267h1v2h-1zM323 268h1v1h-1zM583 269h1v1h-1zM320 272h1v1h-1zM122 273h1v1h-1zM126 273h3v1h-3zM132 273h3v1h-3zM319 273h1v1h-1zM585 273h1v1h-1zM120 274h2v1h-2zM138 274h3v1h-3zM318 274h1v1h-1zM586 274h1v1h-1zM116 275h1v1h-1zM587 275h1v1h-1zM761 275h1v1h-1zM765 275h2v1h-2zM114 276h2v1h-2zM144 276h2v1h-2zM759 276h2v1h-2zM767 276h1v1h-1zM146 277h1v1h-1zM755 277h1v1h-1zM771 277h3v1h-3zM108 278h3v1h-3zM315 278h1v1h-1zM753 278h2v1h-2zM777 278h1v1h-1zM150 279h2v1h-2zM314 279h1v1h-1zM591 279h1v1h-1zM778 279h2v1h-2zM98 280h1v1h-1zM102 280h3v1h-3zM152 280h1v1h-1zM313 280h1v1h-1zM592 280h1v1h-1zM748 280h2v1h-2zM90 281h3v1h-3zM96 281h2v1h-2zM593 281h1v1h-1zM747 281h1v1h-1zM783 281h2v1h-2zM86 282h1v1h-1zM741 282h3v1h-3zM785 282h1v1h-1zM85 283h1v1h-1zM156 283h2v1h-2zM84 284h1v1h-1zM158 284h1v1h-1zM309 284h1v1h-1zM735 284h3v1h-3zM308 285h1v2h-1zM596 285h1v1h-1zM682 285h2v1h-2zM789 285h1v2h-1zM162 286h2v1h-2zM597 286h1v2h-1zM681 286h1v1h-1zM687 286h3v1h-3zM693 286h3v1h-3zM699 286h3v1h-3zM705 286h3v1h-3zM711 286h1v1h-1zM729 286h3v1h-3zM79 287h2v1h-2zM164 287h1v1h-1zM712 287h2v1h-2zM717 287h1v1h-1zM724 287h2v1h-2zM790 287h1v1h-1zM78 288h1v1h-1zM718 288h2v1h-2zM723 288h1v1h-1zM677 289h1v1h-1zM167 290h1v1h-1zM305 290h1v1h-1zM675 290h2v1h-2zM74 291h1v1h-1zM168 291h1v1h-1zM304 291h1v1h-1zM599 291h1v1h-1zM793 291h1v1h-1zM73 292h1v1h-1zM169 292h1v1h-1zM303 292h1v1h-1zM600 292h1v2h-1zM794 292h1v1h-1zM72 293h1v1h-1zM670 293h2v1h-2zM795 293h1v1h-1zM669 294h1v1h-1zM68 296h1v1h-1zM173 296h1v1h-1zM299 296h1v1h-1zM665 296h1v1h-1zM66 297h2v1h-2zM174 297h1v1h-1zM298 297h1v1h-1zM603 297h1v1h-1zM664 297h1v1h-1zM797 297h1v2h-1zM175 298h1v1h-1zM297 298h1v1h-1zM604 298h1v1h-1zM663 298h1v1h-1zM605 299h1v1h-1zM798 299h1v1h-1zM62 300h1v1h-1zM659 300h1v1h-1zM61 301h1v1h-1zM179 301h1v1h-1zM657 301h2v1h-2zM60 302h1v1h-1zM180 302h2v1h-2zM294 302h1v1h-1zM609 302h1v1h-1zM651 302h3v1h-3zM293 303h1v2h-1zM610 303h1v1h-1zM800 303h1v1h-1zM611 304h1v1h-1zM647 304h1v1h-1zM801 304h1v2h-1zM55 305h2v1h-2zM185 305h1v1h-1zM645 305h2v1h-2zM54 306h1v1h-1zM186 306h2v1h-2zM615 306h1v1h-1zM289 307h1v1h-1zM616 307h1v1h-1zM48 308h3v1h-3zM191 308h1v1h-1zM288 308h1v1h-1zM617 308h1v1h-1zM641 308h1v1h-1zM192 309h2v1h-2zM287 309h1v1h-1zM639 309h2v1h-2zM804 309h1v2h-1zM43 310h2v1h-2zM621 310h2v1h-2zM42 311h1v1h-1zM197 311h1v1h-1zM283 311h1v1h-1zM623 311h1v1h-1zM633 311h3v1h-3zM805 311h1v1h-1zM38 312h1v1h-1zM198 312h2v1h-2zM281 312h2v1h-2zM627 312h3v1h-3zM36 313h2v1h-2zM32 314h1v1h-1zM203 314h1v1h-1zM30 315h2v1h-2zM204 315h2v1h-2zM277 315h1v1h-1zM808 315h1v1h-1zM275 316h2v1h-2zM809 316h1v1h-1zM209 317h2v1h-2zM269 317h3v1h-3zM810 317h1v1h-1zM25 318h2v1h-2zM211 318h1v1h-1zM264 318h2v1h-2zM24 319h1v1h-1zM263 319h1v1h-1zM215 320h1v1h-1zM259 320h1v1h-1zM20 321h1v1h-1zM216 321h2v1h-2zM257 321h2v1h-2zM812 321h1v1h-1zM19 322h1v1h-1zM813 322h1v2h-1zM18 323h1v1h-1zM221 324h1v1h-1zM253 324h1v1h-1zM222 325h1v1h-1zM251 325h2v1h-2zM13 326h2v1h-2zM223 326h1v1h-1zM12 327h1v1h-1zM246 327h2v1h-2zM816 327h1v1h-1zM227 328h2v1h-2zM245 328h1v1h-1zM817 328h1v1h-1zM8 329h1v1h-1zM229 329h1v1h-1zM239 329h3v1h-3zM818 329h1v1h-1zM6 330h2v1h-2zM233 330h3v1h-3zM2 332h1v1h-1zM1 333h1v1h-1zM821 333h1v1h-1zM0 334h1v1h-1zM822 334h1v2h-1zM825 339h1v1h-1zM826 340h1v1h-1zM827 341h1v1h-1zM829 345h1v1h-1zM830 346h1v1h-1zM831 347h1v1h-1zM834 351h1v2h-1zM835 353h1v1h-1z"/>
</g>
<g shape-rendering="crispEdges" fill="#000">
<rect x="0" y="0" width="929" height="1"/>
<rect x="928" y="0" width="1" height="577"/>
<rect x="0" y="576" width="928" height="1"/>
<rect x="0" y="594" width="928" height="1"/>
<rect x="18" y="576" width="1" height="19"/>
<rect x="57" y="576" width="1" height="19"/>
<rect x="96" y="576" width="1" height="19"/>
<rect x="136" y="576" width="1" height="19"/>
<rect x="175" y="576" width="1" height="19"/>
<rect x="214" y="576" width="1" height="19"/>
<rect x="252" y="576" width="1" height="19"/>
<rect x="291" y="576" width="1" height="19"/>
<rect x="330" y="576" width="1" height="19"/>
<rect x="370" y="576" width="1" height="19"/>
<rect x="409" y="576" width="1" height="19"/>
<rect x="448" y="576" width="1" height="19"/>
<rect x="486" y="576" width="1" height="19"/>
<rect x="525" y="576" width="1" height="19"/>
<rect x="564" y="576" width="1" height="19"/>
<rect x="603" y="576" width="1" height="19"/>
<rect x="643" y="576" width="1" height="19"/>
<rect x="682" y="576" width="1" height="19"/>
<rect x="720" y="576" width="1" height="19"/>
<rect x="759" y="576" width="1" height="19"/>
<rect x="798" y="576" width="1" height="19"/>
<rect x="837" y="576" width="1" height="19"/>
<rect x="877" y="576" width="1" height="19"/>
<rect x="916" y="576" width="1" height="19"/>
<rect x="167" y="576" width="1" height="34"/>
<rect x="330" y="576" width="1" height="34"/>
<rect x="502" y="576" width="1" height="34"/>
<rect x="682" y="576" width="1" height="34"/>
<rect x="845" y="576" width="1" height="34"/>
<rect x="929" y="573" width="3" height="1"/>
<rect x="929" y="568" width="8" height="1"/>
<rect x="929" y="564" width="3" height="1"/>
<rect x="929" y="559" width="3" height="1"/>
<rect x="929" y="555" width="3" height="1"/>
<rect x="929" y="551" width="3" height="1"/>
<rect x="929" y="546" width="8" height="1"/>
<rect x="929" y="542" width="3" height="1"/>
<rect x="929" y="537" width="3" height="1"/>
<rect x="929" y="533" width="3" height="1"/>
<rect x="929" y="528" width="3" height="1"/>
<rect x="929" y="524" width="8" height="1"/>
<rect x="929" y="519" width="3" height="1"/>
<rect x="929" y="515" width="3" height="1"/>
<rect x="929" y="510" width="3" height="1"/>
<rect x="929" y="506" width="3" height="1"/>
<rect x="929" y="502" width="8" height="1"/>
<rect x="929" y="497" width="3" height="1"/>
<rect x="929" y="493" width="3" height="1"/>
<rect x="929" y="488" width="3" height="1"/>
<rect x="929" y="484" width="3" height="1"/>
<rect x="929" y="479" width="8" height="1"/>
<rect x="929" y="475" width="3" height="1"/>
<rect x="929" y="470" width="3" height="1"/>
<rect x="929" y="466" width="3" height="1"/>
<rect x="929" y="461" width="3" height="1"/>
<rect x="929" y="457" width="8" height="1"/>
<rect x="929" y="453" width="3" height="1"/>
<rect x="929" y="448" width="3" height="1"/>
<rect x="929" y="444" width="3" height="1"/>
<rect x="929" y="439" width="3" height="1"/>
<rect x="929" y="435" width="8" height="1"/>
<rect x="929" y="430" width="3" height="1"/>
<rect x="929" y="426" width="3" height="1"/>
<rect x="929" y="421" width="3" height="1"/>
<rect x="929" y="417" width="3" height="1"/>
<rect x="929" y="412" width="8" height="1"/>
<rect x="929" y="408" width="3" height="1"/>
<rect x="929" y="404" width="3" height="1"/>
<rect x="929" y="399" width="3" height="1"/>
<rect x="929" y="395" width="3" height="1"/>
<rect x="929" y="390" width="8" height="1"/>
<rect x="929" y="386" width="3" height="1"/>
<rect x="929" y="381" width="3" height="1"/>
<rect x="929" y="377" width="3" height="1"/>
<rect x="929" y="372" width="3" height="1"/>
<rect x="929" y="368" width="8" height="1"/>
<rect x="929" y="363" width="3" height="1"/>
<rect x="929" y="359" width="3" height="1"/>
<rect x="929" y="355" width="3" height="1"/>
<rect x="929" y="350" width="3" height="1"/>
<rect x="929" y="346" width="8" height="1"/>
<rect x="929" y="341" width="3" height="1"/>
<rect x="929" y="337" width="3" height="1"/>
<rect x="929" y="332" width="3" height="1"/>
<rect x="929" y="328" width="3" height="1"/>
<rect x="929" y="323" width="8" height="1"/>
<rect x="929" y="319" width="3" height="1"/>
<rect x="929" y="314" width="3" height="1"/>
<rect x="929" y="310" width="3" height="1"/>
<rect x="929" y="305" width="3" height="1"/>
<rect x="929" y="301" width="8" height="1"/>
<rect x="929" y="297" width="3" height="1"/>
<rect x="929" y="292" width="3" height="1"/>
<rect x="929" y="288" width="3" height="1"/>
<rect x="929" y="283" width="3" height="1"/>
<rect x="929" y="279" width="8" height="1"/>
<rect x="929" y="274" width="3" height="1"/>
<rect x="929" y="270" width="3" height="1"/>
<rect x="929" y="265" width="3" height="1"/>
<rect x="929" y="261" width="3" height="1"/>
<rect x="929" y="256" width="8" height="1"/>
<rect x="929" y="252" width="3" height="1"/>
<rect x="929" y="248" width="3" height="1"/>
<rect x="929" y="243" width="3" height="1"/>
<rect x="929" y="239" width="3" height="1"/>
<rect x="929" y="234" width="8" height="1"/>
<rect x="929" y="230" width="3" height="1"/>
<rect x="929" y="225" width="3" height="1"/>
<rect x="929" y="221" width="3" height="1"/>
<rect x="929" y="216" width="3" height="1"/>
<rect x="929" y="212" width="8" height="1"/>
<rect x="929" y="207" width="3" height="1"/>
<rect x="929" y="203" width="3" height="1"/>
<rect x="929" y="199" width="3" height="1"/>
<rect x="929" y="194" width="3" height="1"/>
<rect x="929" y="190" width="8" height="1"/>
<rect x="929" y="185" width="3" height="1"/>
<rect x="929" y="181" width="3" height="1"/>
<rect x="929" y="176" width="3" height="1"/>
<rect x="929" y="172" width="3" height="1"/>
<rect x="929" y="167" width="8" height="1"/>
<rect x="929" y="163" width="3" height="1"/>
<rect x="929" y="158" width="3" height="1"/>
<rect x="929" y="154" width="3" height="1"/>
<rect x="929" y="150" width="3" height="1"/>
<rect x="929" y="145" width="8" height="1"/>
<rect x="929" y="141" width="3" height="1"/>
<rect x="929" y="136" width="3" height="1"/>
<rect x="929" y="132" width="3" height="1"/>
<rect x="929" y="127" width="3" height="1"/>
<rect x="929" y="123" width="8" height="1"/>
<rect x="929" y="118" width="3" height="1"/>
<rect x="929" y="114" width="3" height="1"/>
<rect x="929" y="109" width="3" height="1"/>
<rect x="929" y="105" width="3" height="1"/>
<rect x="929" y="101" width="8" height="1"/>
<rect x="929" y="96" width="3" height="1"/>
<rect x="929" y="92" width="3" height="1"/>
<rect x="929" y="87" width="3" height="1"/>
<rect x="929" y="83" width="3" height="1"/>
<rect x="929" y="78" width="8" height="1"/>
<rect x="929" y="74" width="3" height="1"/>
<rect x="929" y="69" width="3" height="1"/>
<rect x="929" y="65" width="3" height="1"/>
<rect x="929" y="60" width="3" height="1"/>
<rect x="929" y="56" width="8" height="1"/>
<rect x="929" y="52" width="3" height="1"/>
<rect x="929" y="47" width="3" height="1"/>
<rect x="929" y="43" width="3" height="1"/>
<rect x="929" y="38" width="3" height="1"/>
<rect x="929" y="34" width="8" height="1"/>
<rect x="929" y="29" width="3" height="1"/>
<rect x="929" y="25" width="3" height="1"/>
<rect x="929" y="20" width="3" height="1"/>
<rect x="929" y="16" width="3" height="1"/>
<rect x="929" y="11" width="8" height="1"/>
<rect x="929" y="7" width="3" height="1"/>
<rect x="929" y="2" width="3" height="1"/>
</g>
<text x="951" y="575">725</text>
<text x="951" y="553">730</text>
<text x="951" y="531">735</text>
<text x="951" y="509">740</text>
<text x="951" y="486">745</text>
<text x="951" y="464">750</text>
<text x="951" y="442">755</text>
<text x="951" y="419">760</text>
<text x="951" y="397">765</text>
<text x="951" y="375">770</text>
<text x="951" y="353">775</text>
<text x="951" y="330">780</text>
<text x="951" y="308">785</text>
<text x="951" y="286">790</text>
<text x="951" y="263">795</text>
<text x="951" y="241">800</text>
<text x="951" y="219">805</text>
<text x="951" y="197">810</text>
<text x="951" y="174">815</text>
<text x="951" y="152">820</text>
<text x="951" y="130">825</text>
<text x="951" y="108">830</text>
<text x="951" y="85">835</text>
<text x="951" y="63">840</text>
<text x="951" y="41">845</text>
<text x="951" y="18">850</text>
<clipPath id="cx"><rect x="0" y="577" width="928" height="33"/></clipPath><g clip-path="url(#cx)">
<text x="20.5" y="590">6</text>
<text x="59.5" y="590">13</text>
<text x="98.5" y="590">20</text>
<text x="138.5" y="590">27</text>
<text x="177.5" y="590">4</text>
<text x="216.5" y="590">11</text>
<text x="254.5" y="590">18</text>
<text x="293.5" y="590">25</text>
<text x="332.5" y="590">1</text>
<text x="372.5" y="590">8</text>
<text x="411.5" y="590">15</text>
<text x="450.5" y="590">22</text>
<text x="488.5" y="590">29</text>
<text x="527.5" y="590">6</text>
<text x="566.5" y="590">13</text>
<text x="605.5" y="590">20</text>
<text x="645.5" y="590">27</text>
<text x="684.5" y="590">3</text>
<text x="722.5" y="590">10</text>
<text x="761.5" y="590">17</text>
<text x="800.5" y="590">24</text>
<text x="839.5" y="590">31</text>
<text x="879.5" y="590">7</text>
<text x="918.5" y="590">14</text>
</g>
<text x="-0.5" y="608" textLength="69.7" lengthAdjust="spacing">September</text>
<text x="169.5" y="608" textLength="53.8" lengthAdjust="spacing">October</text>
<text x="332.5" y="608" textLength="64.7" lengthAdjust="spacing">November</text>
<text x="504.5" y="608" textLength="66" lengthAdjust="spacing">December</text>
<text x="684.5" y="608">2022</text>
<text x="846.5" y="608" textLength="59.2" lengthAdjust="spacing">February</text>
<rect x="10" y="556" width="141" height="13" fill="#fff" opacity="0.55"/>
<text x="10.5" y="565">© ADN Beursanalyse</text>
<rect x="289.5" y="10.5" width="256" height="15" fill="#fff" stroke="#000" stroke-width="1" shape-rendering="crispEdges"/>
<text x="291.6" y="22" textLength="250.6" lengthAdjust="spacing">AEX daggrafiek maandag 31 jan 2022</text>
</svg></body></html>
